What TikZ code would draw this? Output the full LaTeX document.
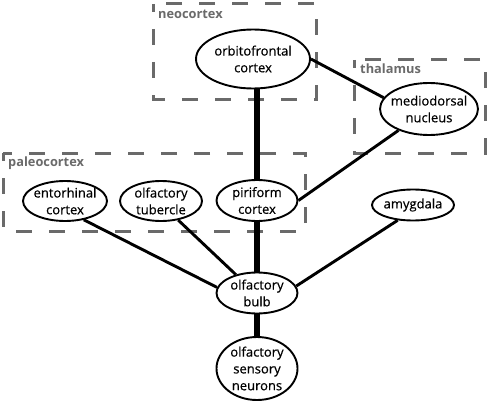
\documentclass[tikz,border=0pt]{standalone}
\usepackage{fontspec}
\setmainfont{Open Sans}
\newfontfamily\regfont{Open Sans}[FakeBold=0.5]
\usetikzlibrary{shapes.geometric}
\definecolor{grpgray}{HTML}{6A6A6A}
\begin{document}
\begin{tikzpicture}[x=1pt,y=-1pt,
  region/.style={ellipse,draw,line width=1.9pt,inner sep=0pt,fill=white},
  regtext/.style={align=center,inner sep=0pt,font=\regfont\fontsize{13}{16.8}\selectfont},
  grp/.style={draw=grpgray,line width=3pt,dash pattern=on 16pt off 17pt,dash phase=8pt},
  grplabel/.style={text=grpgray,font=\bfseries\fontsize{12.8}{15}\selectfont,anchor=base west,inner sep=0pt},
  link/.style={line width=2.9pt},
  strong link/.style={line width=6pt}]
\useasboundingbox (0,0) rectangle (490,404);
% group boxes
\draw[grp] (153,4) rectangle (316,99);
\draw[grp] (354,60) rectangle (485,153);
\draw[grp] (3,153) rectangle (305,231);
\node[grplabel] (lneo) at (158,18.5) {neocortex};
\node[grplabel] (lthal) at (360,73.5) {thalamus};
\node[grplabel] (lpaleo) at (8,166.5) {paleocortex};
% regions
\node[region,minimum width=114pt,minimum height=59pt] (ofc) at (253,59) {};
\node[regtext] at (ofc) {orbitofrontal\\cortex};
\node[region,minimum width=98pt,minimum height=52pt] (md) at (429,109) {};
\node[regtext] at (md) {mediodorsal\\nucleus};
\node[region,minimum width=84pt,minimum height=40pt] (ent) at (65,201) {};
\node[regtext] at (ent) {entorhinal\\cortex};
\node[region,minimum width=82pt,minimum height=40pt] (tub) at (161,201) {};
\node[regtext] at (tub) {olfactory\\tubercle};
\node[region,minimum width=81pt,minimum height=41pt] (pir) at (257,200.5) {};
\node[regtext] at (pir) {piriform\\cortex};
\node[region,minimum width=82pt,minimum height=31pt] (amy) at (413,205) {};
\node[regtext] at (amy) {amygdala};
\node[region,minimum width=81pt,minimum height=41pt] (bulb) at (257,293) {};
\node[regtext] at (bulb) {olfactory\\bulb};
\node[region,minimum width=81pt,minimum height=63pt] (osn) at (257,368.5) {};
\node[regtext] at (osn) {olfactory\\sensory\\neurons};
% connections
\draw[strong link] (pir.north) -- (pir.north |- ofc.south);
\draw[strong link] (pir.south) -- (bulb.north);
\draw[strong link] (bulb.south) -- (osn.north);
\draw[link] (ofc.east) -- (md.166);
\draw[link] (pir.east) -- (md);
\draw[link] (ent.-45) -- (bulb.172);
\draw[link] (tub.-48) -- (bulb.139);
\draw[link] (amy.225) -- (bulb.10);
\end{tikzpicture}
\end{document}
